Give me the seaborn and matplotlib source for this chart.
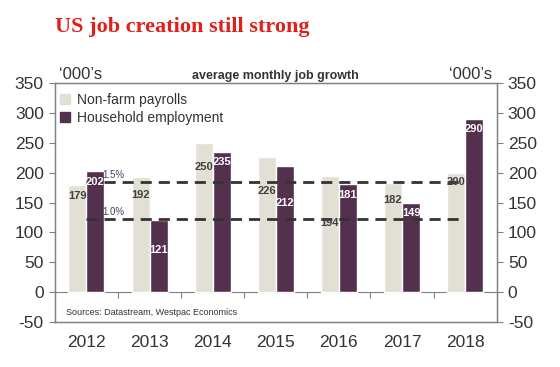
import pandas as pd
import seaborn as sns
import matplotlib.pyplot as plt
from matplotlib.patches import Patch

# data
years = ["2012", "2013", "2014", "2015", "2016", "2017", "2018"]
nonfarm = [179, 192, 250, 226, 194, 182, 200]
household = [202, 121, 235, 212, 181, 149, 290]
# how far below the bar top each data label sits (data units)
nonfarm_drop = [18, 30, 40, 57, 79, 28, 15]
household_drop = [17, 50, 17, 62, 18, 17, 17]
breakeven_vals = [185, 123]
breakeven_labels = ["1.5%", "1.0%"]

NF_COLOR = "#E2E0D5"
HH_COLOR = "#52304E"
GREY = "#808080"

df = pd.DataFrame({
    "year": years * 2,
    "value": nonfarm + household,
    "series": ["Non-farm payrolls"] * len(years) + ["Household employment"] * len(years),
})

sns.set_style("white")
plt.rcParams["font.family"] = ["Liberation Sans", "DejaVu Sans"]
plt.rcParams["axes.unicode_minus"] = False

fig = plt.figure(figsize=(5.6, 3.67), dpi=100)
ax = fig.add_axes([0.098, 0.1226, 0.789, 0.651])

sns.barplot(data=df, x="year", y="value", hue="series",
            palette=[NF_COLOR, HH_COLOR], width=0.57, ax=ax,
            legend=False, saturation=1)

ax.set_ylim(-50, 350)
ax.set_xlim(-0.5, len(years) - 0.5)
ax.set_yticks(range(-50, 351, 50))
ax.set_xlabel("")
ax.set_ylabel("")
ax.tick_params(axis="y", direction="out", length=4, color=GREY, labelsize=12.5,
               labelcolor="#333333", pad=4, left=True)
ax.tick_params(axis="x", length=0, labelsize=12.5, labelcolor="#333333", pad=9)
for sp in ax.spines.values():
    sp.set_color(GREY)
    sp.set_linewidth(1)

# right-hand axis, same scale
ax2 = ax.twinx()
ax2.set_ylim(ax.get_ylim())
ax2.set_yticks(range(-50, 351, 50))
ax2.tick_params(axis="y", direction="out", length=4, color=GREY, labelsize=12.5,
                labelcolor="#333333", pad=4)
for sp in ax2.spines.values():
    sp.set_color(GREY)

# zero line with ticks between categories
zero = ax.secondary_xaxis((0 + 50) / 400)
zero.set_xticks([i + 0.5 for i in range(len(years) - 1)])
zero.set_xticklabels([])
zero.tick_params(direction="out", length=4, color=GREY)
zero.spines["bottom"].set_color(GREY)

# data labels
w = 0.57 / 2
for i, (nf, hh) in enumerate(zip(nonfarm, household)):
    ax.text(i - w / 2, nf - nonfarm_drop[i], str(nf), ha="center", va="center",
            fontsize=8, fontweight="bold", color="#404040", zorder=7)
    ax.text(i + w / 2, hh - household_drop[i], str(hh), ha="center", va="center",
            fontsize=8, fontweight="bold", color="white", zorder=7)

# breakeven lines
for val, lab in zip(breakeven_vals, breakeven_labels):
    ax.plot([0, len(years) - 1], [val, val], color="#333333", lw=2,
            ls=(0, (4, 2.5)), zorder=5)
    ax.text(0.25, val + 3, lab, fontsize=7, color="#3a4a5a", ha="left", va="bottom")

handles = [Patch(color=NF_COLOR, label="Non-farm payrolls"),
           Patch(color=HH_COLOR, label="Household employment")]
ax.legend(handles=handles, loc="upper left", bbox_to_anchor=(0.012, 0.96),
          frameon=False, fontsize=10, handlelength=0.7, handleheight=0.7,
          handletextpad=0.5, labelspacing=0.3, borderaxespad=0, borderpad=0,
          labelcolor="#333333")

ax.text(0.01, 1.005, "\u2018000\u2019s", transform=ax.transAxes, fontsize=12,
        color="#333333", ha="left", va="bottom")
ax.text(0.99, 1.005, "\u2018000\u2019s", transform=ax.transAxes, fontsize=12,
        color="#333333", ha="right", va="bottom")
ax.text(0.5, 1.005, "average monthly job growth", transform=ax.transAxes,
        fontsize=9, fontweight="bold", color="#333333", ha="center", va="bottom")
ax.text(0.025, 0.04, "Sources: Datastream, Westpac Economics", transform=ax.transAxes,
        fontsize=6.5, color="#333333", ha="left", va="center")

fig.text(0.098, 0.926, "US job creation still strong", fontsize=16,
         fontweight="bold", color="#E0201B", family="Liberation Serif",
         ha="left", va="center")

fig.savefig("out.png", dpi=100)
